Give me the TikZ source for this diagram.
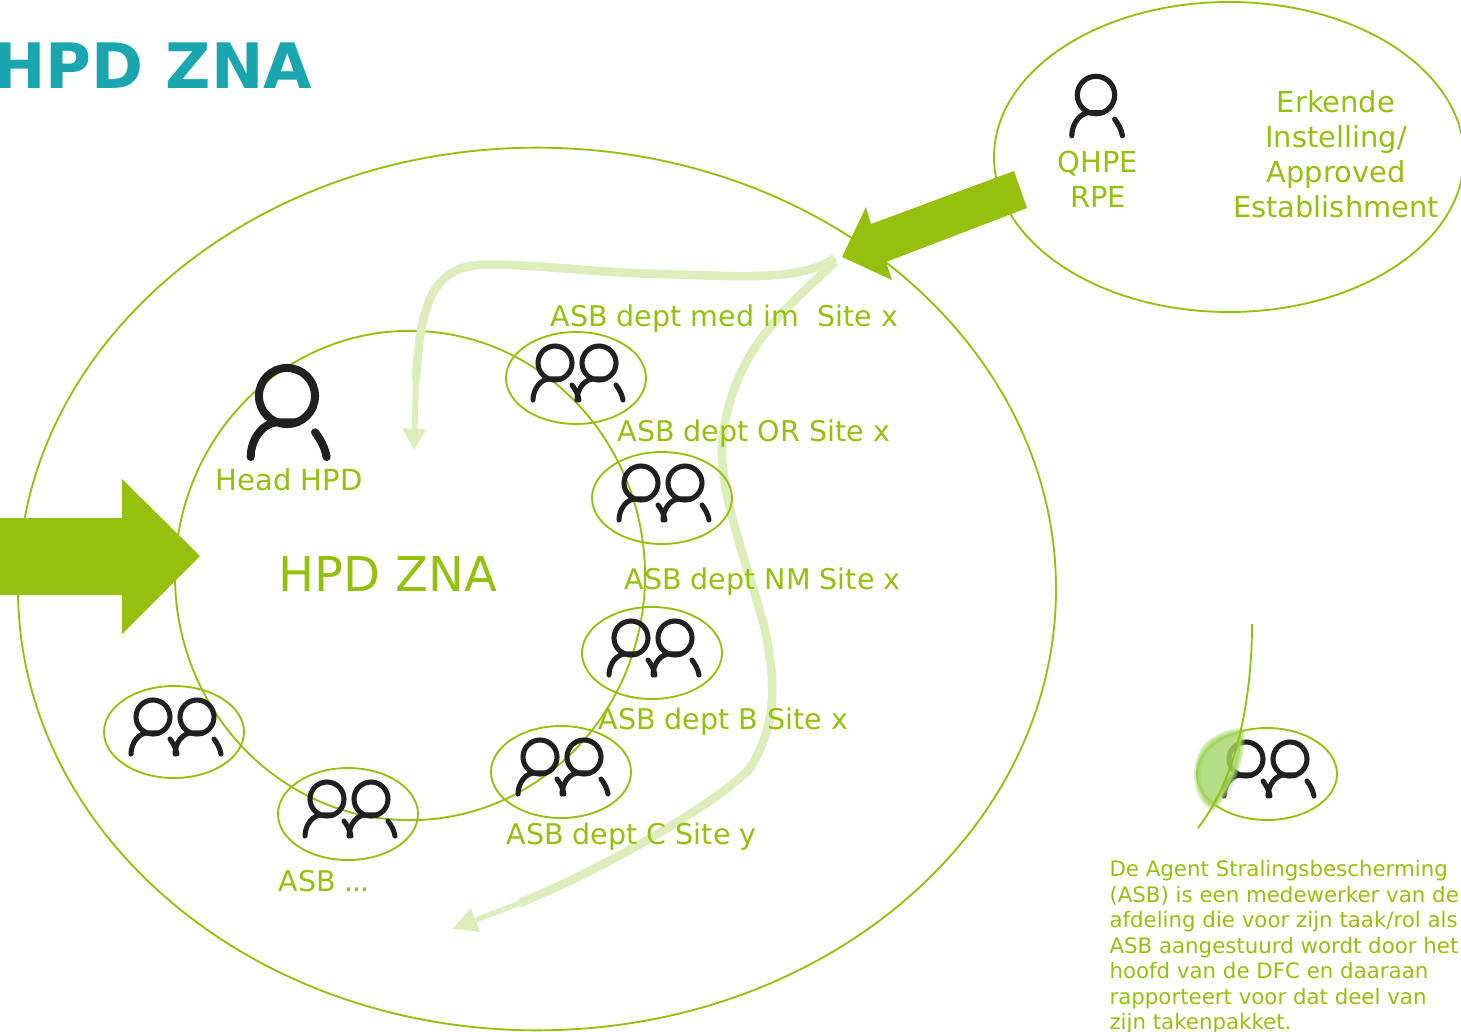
\documentclass[tikz,border=0pt]{standalone}
\usepackage{fontspec}
\setmainfont{DejaVu Sans}
\usetikzlibrary{shapes.geometric,arrows.meta}

\definecolor{hpdgreen}{HTML}{96C00E}
\definecolor{hpdpale}{HTML}{DFEDBC}
\definecolor{hpdteal}{HTML}{19A6AF}
\definecolor{hpdglow}{HTML}{A6D76C}
\definecolor{hpdicon}{HTML}{221F20}

\tikzset{every picture/.style={line width=0.75pt}}
\tikzset{
  hpdring/.style={draw=hpdgreen,line width=1.4pt,ellipse,inner sep=0pt},
  asbring/.style={hpdring,minimum width=105pt,minimum height=69pt},
  hpdlabel/.style={text=hpdgreen,font=\fontsize{21.4}{26}\selectfont,anchor=base west,inner sep=0pt},
  hpdstack/.style={text=hpdgreen,font=\fontsize{21.7}{26.25}\selectfont,align=center,inner sep=0pt},
  paleline/.style={draw=hpdpale,line width=6.5pt},
  person/.pic={
    \draw[hpdicon,line cap=round] (0,0) circle (17);
    \draw[hpdicon,line cap=round] (-22,-37) .. controls (-22,-26) and (-14,-15) .. (-4,-16) -- (6,-16);
    \draw[hpdicon,line cap=round] (17,-22) .. controls (20,-26) and (23,-31) .. (24,-37);
  },
  asbpair/.pic={
    \pic at (-21,15) {person};
    \pic at (23,15) {person};
  },
}

\begin{document}
\begin{tikzpicture}[x=0.75pt,y=0.75pt,yscale=-1,xscale=1]
\useasboundingbox (0,0) rectangle (1461,1032);

%Shape: Ellipse
\node (hpdouter) at (537,589) [hpdring,minimum width=778.5pt,minimum height=662pt] {};
\node (hpdinner) at (410,575.5) [hpdring,minimum width=352.5pt,minimum height=367pt] {};
\node (erkende) at (1229,157) [hpdring,minimum width=352.5pt,minimum height=232.5pt] {};

%Curve Lines
\coordinate (curveastart) at (835,258);
\coordinate (curveamid) at (416,380);
\coordinate (curveaend) at (414,450);
\coordinate (curvebstart) at (835,262);
\coordinate (curvebmid) at (520,903);
\coordinate (curvebend) at (452,929);
\draw [paleline] (curveastart) .. controls (800,282) and (740,276) .. (660,274) .. controls (580,272) and (530,263) .. (480,265) .. controls (430,268) and (420,310) .. (curveamid) ;
\draw [paleline,line width=4.5pt,-{Triangle[width=17pt,length=16pt]}] (curveamid) -- (curveaend) ;
\draw [paleline] (curvebstart) .. controls (790,305) and (730,350) .. (722,445) .. controls (720,500) and (750,570) .. (765,630) .. controls (775,680) and (778,720) .. (752,765) .. controls (739,787) and (625,860) .. (curvebmid) ;
\draw [paleline,line width=4pt,-{Triangle[width=18pt,length=19pt]}] (curvebmid) -- (curvebend) ;

%Shape: Arrow
\fill [hpdgreen] (0,518) -- (122,518) -- (122,479) -- (200,556) -- (122,634) -- (122,595) -- (0,595) -- cycle ;
\fill [hpdgreen] (1014,171) -- (871,224) -- (866,207) -- (842,257) -- (892,280) -- (886,262) -- (1027,208) -- cycle ;

%Shape: Ellipse
\node (asbmed) at (576,378) [asbring] {};
\node (asbor) at (662,498) [asbring] {};
\node (asbnm) at (652,653) [asbring] {};
\node (asbc) at (561,772) [asbring] {};
\node (asbleft) at (174,732) [asbring] {};
\node (asbdots) at (348,814) [asbring] {};
\node (asbagent) at (1267,774) [asbring] {};

%Icons
\pic [line width=6pt,scale=1.65] at (287,396) {person};
\pic [line width=3.9pt,scale=1.1] at (1096,95) {person};
\foreach \asb in {asbmed,asbor,asbnm,asbc,asbleft,asbdots,asbagent}
  \pic [line width=3.8pt] at (\asb) {asbpair};

%Highlight
\foreach \w in {6,4,2,0.5}
  \draw [hpdglow,fill=hpdglow,opacity=0.35,line width=\w pt,line join=round] (1238,732) .. controls (1210,737) and (1198,752) .. (1198,775) .. controls (1198,790) and (1205,803) .. (1213,806) .. controls (1225,793) and (1241,770) .. (1241,732) -- cycle ;
\coordinate (agentlinestart) at (1252,624);
\coordinate (agentlineend) at (1198,828);
\draw [hpdgreen,line width=1.4pt] (agentlinestart) .. controls (1252,680) and (1243,770) .. (agentlineend) ;

% Text Node
\node (title) at (-7,88) [text=hpdteal,font=\fontsize{47}{56}\selectfont\bfseries,anchor=base west,inner sep=0pt] {HPD ZNA};
\node (hpdcentre) at (278,591) [hpdlabel,font=\fontsize{36}{42}\selectfont] {HPD ZNA};
\node (headhpd) at (215,490) [hpdlabel,font=\fontsize{21.8}{26}\selectfont] {Head HPD};
% Text Node
\node (lblmed) at (550,326) [hpdlabel] {ASB dept med im\ \ Site x};
\node (lblor) at (617,441) [hpdlabel] {ASB dept OR Site x};
\node (lblnm) at (624,589) [hpdlabel] {ASB dept NM Site x};
\node (lblb) at (598,729) [hpdlabel] {ASB dept B Site x};
\node (lblc) at (506,844) [hpdlabel] {ASB dept C Site y};
\node (lbldots) at (278,891) [hpdlabel] {ASB .\kern-1pt.\kern-1pt.};
% Text Node
\node (lblqhpe) at (1098,179.5) [hpdstack] {QHPE\\RPE};
\node (lblerkende) at (1336,154.5) [hpdstack] {Erkende\\Instelling/\\Approved\\Establishment};
% Text Node
\node (lblagent) at (1109,860) [text=hpdgreen,font=\fontsize{16}{19.15}\selectfont,align=left,anchor=north west,inner sep=0pt] {De Agent Stralingsbescherming\\(ASB) is een medewerker van de\\afdeling die voor zijn taak/rol als\\ASB aangestuurd wordt door het\\hoofd van de DFC en daaraan\\rapporteert voor dat deel van\\zijn takenpakket.};

\end{tikzpicture}
\end{document}
